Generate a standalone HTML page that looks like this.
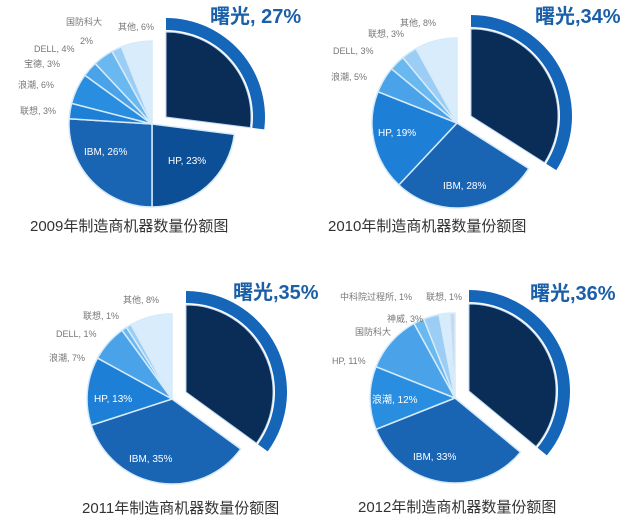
<!DOCTYPE html>
<html><head><meta charset="utf-8"><style>
body{margin:0;background:#fff;}
svg text{font-family:"Liberation Sans","Noto Sans CJK SC",sans-serif;}
.l{font-size:9px;fill:#777;}
.w{font-size:10px;fill:#fff;}
.t{font-size:15px;fill:#333;}
.s{font-size:20px;fill:#1a5fa8;font-weight:bold;}
</style></head><body>
<svg id="c" width="640" height="526" xmlns="http://www.w3.org/2000/svg">
<g id="g"></g>
<text class="t" x="30" y="231">2009年制造商机器数量份额图</text>
<text class="t" x="328" y="231">2010年制造商机器数量份额图</text>
<text class="t" x="82" y="513">2011年制造商机器数量份额图</text>
<text class="t" x="358" y="512">2012年制造商机器数量份额图</text>
<text class="s" x="210" y="23">曙光, 27%</text>
<text class="s" x="535" y="23">曙光,34%</text>
<text class="s" x="233" y="299">曙光,35%</text>
<text class="s" x="530" y="300">曙光,36%</text>
<text class="l" x="66" y="25">国防科大</text><text class="l" x="80" y="44">2%</text>
<text class="l" x="118" y="30">其他, 6%</text>
<text class="l" x="34" y="52">DELL, 4%</text>
<text class="l" x="24" y="67">宝德, 3%</text>
<text class="l" x="18" y="88">浪潮, 6%</text>
<text class="l" x="20" y="114">联想, 3%</text>
<text class="w" x="84" y="155">IBM, 26%</text>
<text class="w" x="168" y="164">HP, 23%</text>
<text class="l" x="400" y="26">其他, 8%</text>
<text class="l" x="368" y="37">联想, 3%</text>
<text class="l" x="333" y="54">DELL, 3%</text>
<text class="l" x="331" y="80">浪潮, 5%</text>
<text class="w" x="378" y="136">HP, 19%</text>
<text class="w" x="443" y="189">IBM, 28%</text>
<text class="l" x="123" y="303">其他, 8%</text>
<text class="l" x="83" y="319">联想, 1%</text>
<text class="l" x="56" y="337">DELL, 1%</text>
<text class="l" x="49" y="361">浪潮, 7%</text>
<text class="w" x="94" y="402">HP, 13%</text>
<text class="w" x="129" y="462">IBM, 35%</text>
<text class="l" x="340" y="300">中科院过程所, 1%</text>
<text class="l" x="426" y="300">联想, 1%</text>
<text class="l" x="387" y="322">神威, 3%</text>
<text class="l" x="355" y="335">国防科大</text>
<text class="l" x="332" y="364">HP, 11%</text>
<text class="w" x="372" y="403">浪潮, 12%</text>
<text class="w" x="413" y="460">IBM, 33%</text>
</svg>
<script>
var cols=["#0d4f96","#1a64b4","#1e7fd6","#2a8ee0","#4aa3e8","#6ab8f0","#9ccdf5","#d8ecfb","#c8d8f0"];
var charts=[
 {cx:152,cy:124,r:83,p:[27,23,26,3,6,3,4,2,6],c:[0,0,1,2,3,4,5,6,7]},
 {cx:457,cy:123,r:85,p:[34,28,19,5,3,3,8],c:[0,1,2,4,5,6,7]},
 {cx:172,cy:399,r:85,p:[35,35,13,7,1,1,8],c:[0,1,2,4,5,6,7]},
 {cx:455,cy:398,r:85,p:[36,33,12,11,2,3,1,1,1],c:[0,1,3,4,5,6,7,7,8]}
];
var g=document.getElementById("g"),h="";
function pt(cx,cy,r,a){a=a*Math.PI/180;return [cx+r*Math.sin(a),cy-r*Math.cos(a)];}
function arc(cx,cy,r,a0,a1,ri){
 var l=(a1-a0)>180?1:0,p0=pt(cx,cy,r,a0),p1=pt(cx,cy,r,a1);
 if(ri){var q1=pt(cx,cy,ri,a1),q0=pt(cx,cy,ri,a0);
  return "M"+p0+"A"+r+","+r+" 0 "+l+" 1 "+p1+"L"+q1+"A"+ri+","+ri+" 0 "+l+" 0 "+q0+"Z";}
 return "M"+cx+","+cy+"L"+p0+"A"+r+","+r+" 0 "+l+" 1 "+p1+"Z";
}
charts.forEach(function(ch){
 var a=0;
 ch.p.forEach(function(v,i){
  var a1=a+v*3.6;
  if(i==0){
   var ex=ch.cx+14,ey=ch.cy-7;
   h+='<path d="'+arc(ex,ey,ch.r+16,a,a1,ch.r+4)+'" fill="#1565b8"/>';
   h+='<path d="'+arc(ex,ey,ch.r+2,a,a1)+'" fill="#0a2d57" stroke="#b8d4ee" stroke-width="1"/>';
  } else {
   h+='<path d="'+arc(ch.cx,ch.cy,ch.r,a,a1)+'" fill="'+cols[ch.c[i]]+'" stroke="#d6ebfa" stroke-width="1.5"/>';
  }
  a=a1;
 });
});
g.innerHTML=h;
</script>
</body></html>
